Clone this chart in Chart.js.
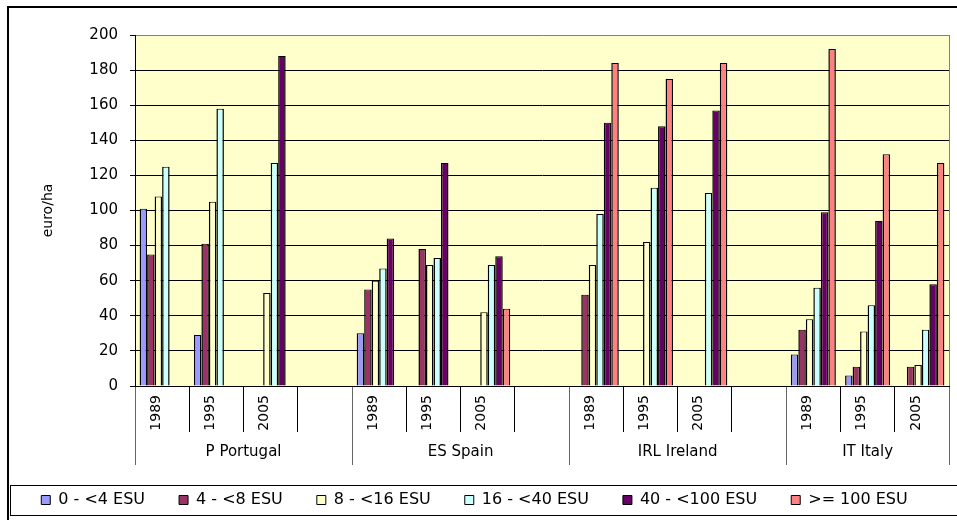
<!DOCTYPE html>
<html>
<head>
<meta charset="utf-8">
<script src="https://cdn.jsdelivr.net/npm/chart.js@4.4.0/dist/chart.umd.min.js"></script>
<style>
  html, body { margin: 0; padding: 0; background: #fff; }
  #wrap { width: 957px; height: 520px; }
</style>
</head>
<body>
<div id="wrap"><canvas id="chart"></canvas></div>
<script>
const countries = ['P Portugal', 'ES Spain', 'IRL Ireland', 'IT Italy'];
// three survey years per country, with an empty spacer slot between countries
const categories = ['1989', '1995', '2005', '',
                    '1989', '1995', '2005', '',
                    '1989', '1995', '2005', '',
                    '1989', '1995', '2005'];
const groupStarts = [0, 4, 8, 12];

const seriesNames = ['0 - <4 ESU', '4 - <8 ESU', '8 - <16 ESU', '16 - <40 ESU', '40 - <100 ESU', '>= 100 ESU'];
const esu0to4    = [101, 29, null, null,   30, null, null, null,   null, null, null, null,   18, 6, null];
const esu4to8    = [75, 81, null, null,    55, 78, null, null,     52, null, null, null,     32, 11, 11];
const esu8to16   = [108, 105, 53, null,    60, 69, 42, null,       69, 82, null, null,       38, 31, 12];
const esu16to40  = [125, 158, 127, null,   67, 73, 69, null,       98, 113, 110, null,       56, 46, 32];
const esu40to100 = [null, null, 188, null, 84, 127, 74, null,      150, 148, 157, null,      99, 94, 58];
const esu100plus = [null, null, null, null, null, null, 44, null,  184, 175, 184, null,      192, 132, 127];

const yTicks = { min: 0, max: 200, step: 20 };

const colors = ['#9999FF', '#993366', '#FFFFCC', '#CCFFFF', '#660066', '#FF8080'];
const seriesData = [esu0to4, esu4to8, esu8to16, esu16to40, esu40to100, esu100plus];

Chart.defaults.font.family = '"DejaVu Sans", sans-serif';
Chart.defaults.color = '#000';

const isGroupEdge = c => c.index === undefined || groupStarts.includes(c.index);
const crisp = px => Math.round(px - 0.5) + 0.5;

// yellow plot area, country labels under the years, outer frame and legend box
const excelFrame = {
  id: 'excelFrame',
  beforeDraw(chart) {
    const { ctx, chartArea: a } = chart;
    ctx.save();
    ctx.fillStyle = '#FFFFCC';
    ctx.fillRect(a.left, a.top, a.right - a.left, a.bottom - a.top);
    ctx.restore();
  },
  afterDraw(chart) {
    const { ctx, chartArea: a, scales: { x }, legend } = chart;
    const half = (x.getPixelForValue(1) - x.getPixelForValue(0)) / 2;
    const tickEnd = a.bottom + x.options.grid.tickLength;
    ctx.save();

    // plot area border on the right
    ctx.strokeStyle = '#808080';
    ctx.lineWidth = 1;
    ctx.beginPath();
    ctx.moveTo(crisp(a.right), a.top);
    ctx.lineTo(crisp(a.right), a.bottom);
    ctx.stroke();

    // country dividers and names
    ctx.font = '15px "DejaVu Sans"';
    ctx.fillStyle = '#000';
    ctx.textAlign = 'center';
    ctx.textBaseline = 'middle';
    groupStarts.forEach((s, i) => {
      const e = i + 1 < groupStarts.length ? groupStarts[i + 1] - 1 : categories.length - 1;
      const l = x.getPixelForValue(s) - half;
      const r = x.getPixelForValue(e) + half;
      ctx.fillText(countries[i], (l + r) / 2, a.bottom + 66);
      ctx.strokeStyle = '#666';
      [l, r].forEach(px => {
        ctx.beginPath();
        ctx.moveTo(crisp(px), tickEnd);
        ctx.lineTo(crisp(px), a.bottom + 79);
        ctx.stroke();
      });
    });

    // legend box
    const lab = legend.options.labels;
    const cy = legend.top + lab.padding + lab.font.size / 2;
    ctx.strokeStyle = '#000';
    ctx.lineWidth = 1;
    ctx.strokeRect(10.5, Math.round(cy - 15) + 0.5, chart.width + 20, 30);

    // outer chart frame (runs off the right and bottom edges)
    ctx.lineWidth = 2;
    ctx.strokeRect(8, 7, chart.width + 20, chart.height + 20);
    ctx.restore();
  }
};

new Chart(document.getElementById('chart'), {
  type: 'bar',
  data: {
    labels: categories,
    datasets: seriesNames.map((name, i) => ({
      label: name,
      data: seriesData[i],
      backgroundColor: colors[i],
      borderColor: '#000',
      borderWidth: { top: 1, left: 1.5, right: 1.5, bottom: 0 }
    }))
  },
  options: {
    responsive: true,
    maintainAspectRatio: false,
    animation: false,
    categoryPercentage: 0.83,
    barPercentage: 1.0,
    layout: { padding: { top: 35, right: 8, bottom: 2, left: 0 } },
    scales: {
      x: {
        afterFit: s => { s.height = 72; },
        grid: {
          offset: true,
          drawOnChartArea: false,
          tickLength: 46,
          color: c => isGroupEdge(c) ? '#666' : '#000',
          tickColor: c => isGroupEdge(c) ? '#666' : '#000'
        },
        border: { color: '#000' },
        ticks: {
          autoSkip: false,
          minRotation: 90,
          maxRotation: 90,
          padding: -37,
          labelOffset: -6,
          color: '#000',
          font: { size: 14 }
        }
      },
      y: {
        afterFit: s => { s.width = 135; },
        min: yTicks.min,
        max: yTicks.max,
        grid: {
          color: c => c.tick && c.tick.value === yTicks.max ? '#808080' : '#000',
          tickColor: '#000',
          tickLength: 5
        },
        border: { color: '#000' },
        ticks: {
          stepSize: yTicks.step,
          padding: 12,
          color: '#000',
          font: { size: 15 }
        },
        title: {
          display: true,
          text: 'euro/ha',
          color: '#000',
          font: { size: 14 },
          padding: { top: 40, bottom: 0 }
        }
      }
    },
    plugins: {
      legend: {
        position: 'bottom',
        labels: {
          boxWidth: 9,
          boxHeight: 9,
          padding: 34,
          color: '#000',
          font: { size: 16 }
        }
      },
      tooltip: { enabled: false }
    }
  },
  plugins: [excelFrame]
});
</script>
</body>
</html>
